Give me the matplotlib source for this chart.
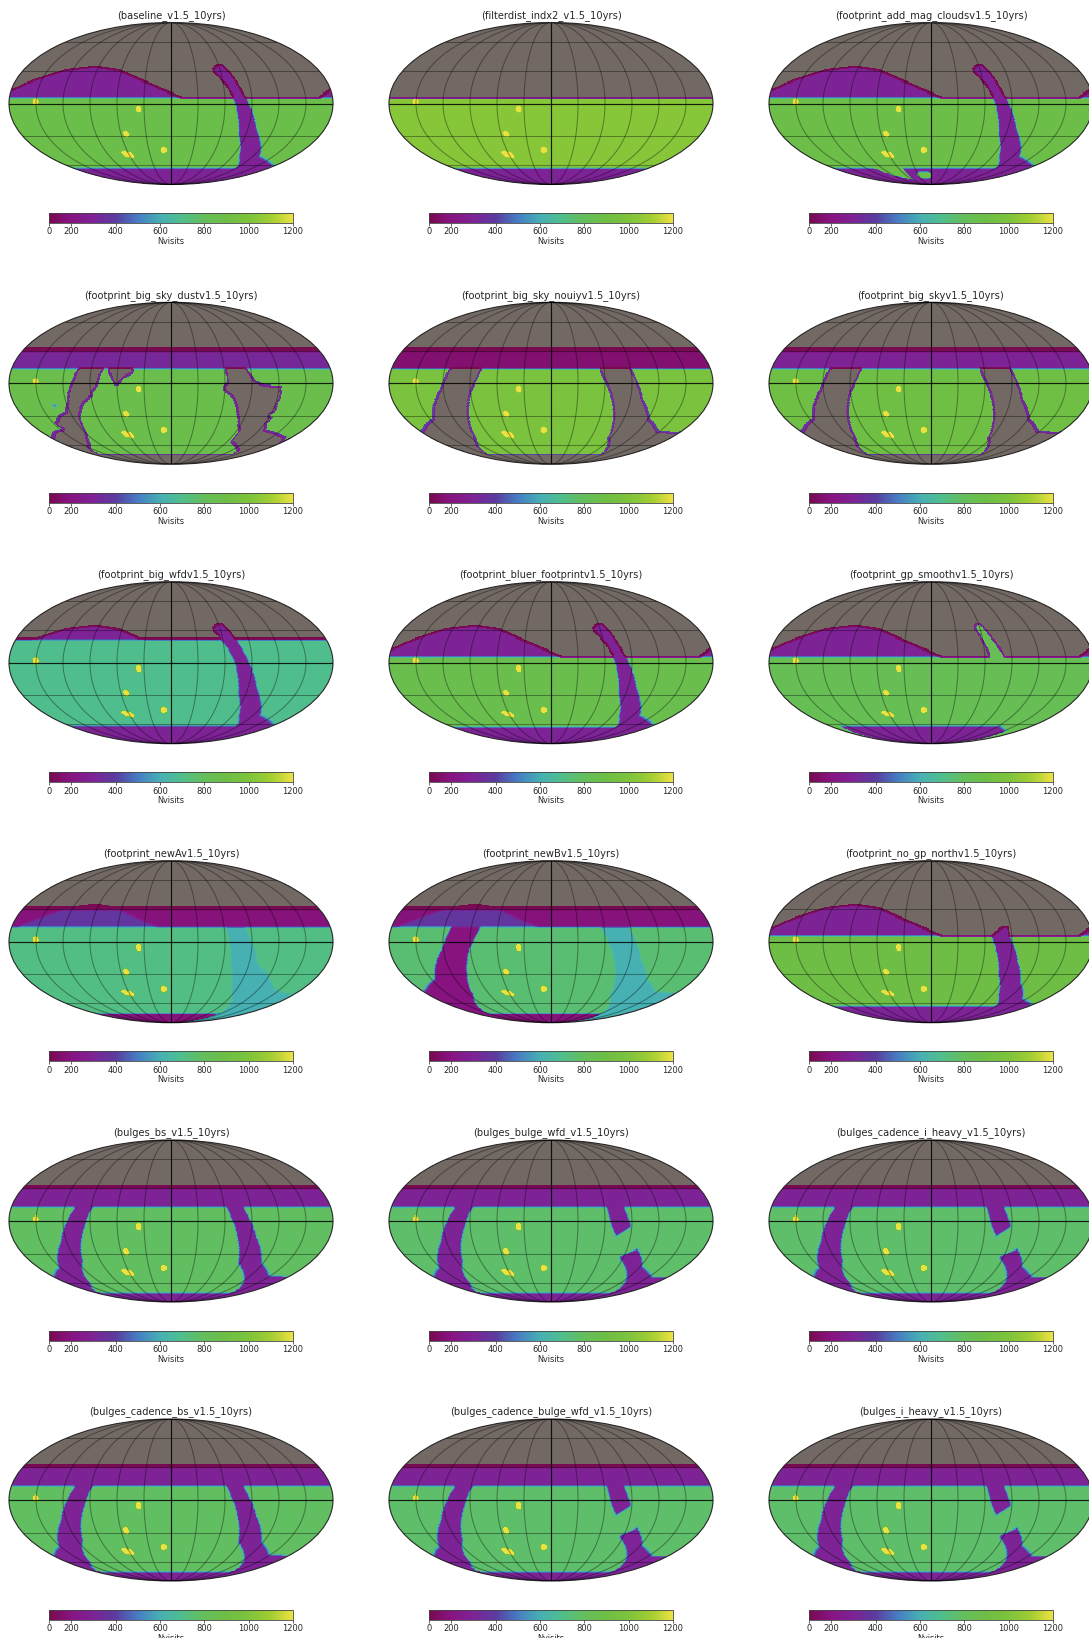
import numpy as np
import matplotlib
matplotlib.use("Agg")
import matplotlib.pyplot as plt
from matplotlib.colors import LinearSegmentedColormap
from matplotlib.path import Path

# ---- panels -------------------------------------------------------------
TITLES = ["baseline_v1.5_10yrs", "filterdist_indx2_v1.5_10yrs", "footprint_add_mag_cloudsv1.5_10yrs",
          "footprint_big_sky_dustv1.5_10yrs", "footprint_big_sky_nouiyv1.5_10yrs", "footprint_big_skyv1.5_10yrs",
          "footprint_big_wfdv1.5_10yrs", "footprint_bluer_footprintv1.5_10yrs", "footprint_gp_smoothv1.5_10yrs",
          "footprint_newAv1.5_10yrs", "footprint_newBv1.5_10yrs", "footprint_no_gp_northv1.5_10yrs",
          "bulges_bs_v1.5_10yrs", "bulges_bulge_wfd_v1.5_10yrs", "bulges_cadence_i_heavy_v1.5_10yrs",
          "bulges_cadence_bs_v1.5_10yrs", "bulges_cadence_bulge_wfd_v1.5_10yrs", "bulges_i_heavy_v1.5_10yrs"]
FOOTPRINTS = ["baseline", "filterdist", "magclouds",
              "dust", "bigsky", "bigsky",
              "bigwfd", "baseline", "gpsmooth",
              "newA", "newB", "nogpnorth",
              "bulge_bs", "bulge_wfd", "bulge_wfd",
              "bulge_bs", "bulge_wfd", "bulge_wfd"]
WFD_VISITS = [880, 1025, 885, 870, 985, 910, 700, 860, 825, 715, 750, 900, 785, 770, 770, 785, 770, 770]
BAND_VISITS = [300, 300, 300, 320, 165, 300, 300, 300, 300, 190, 190, 300, 300, 300, 300, 300, 300, 300]

CB_TICKS = [100, 200, 400, 600, 800, 1000, 1200]
CB_TICK_LABELS = ["0", "200", "400", "600", "800", "1000", "1200"]
CB_LABEL = "Nvisits"
CMAP_VALUES = [100, 200, 300, 400, 500, 600, 700, 800, 900, 1000, 1100, 1200]
CMAP_COLORS = ["#780a50", "#871482", "#7d2396", "#5a3ca0", "#467dc3", "#46afb4", "#50be8c", "#64be5a",
               "#6ebe46", "#7dc33c", "#a0cd32", "#ebe141"]
MASK_COLOR = "#736964"

# ---- sky regions (degrees) ------------------------------------------------
DDF_LON = [-150.4, -36, -53.6, -64.6, -58.4, -10]
DDF_LAT = [1.6, -5.1, -28, -47.8, -49.2, -44]

NES_LON = [-180, -160, -129, -94, -63, -29, 13, 164, 180]
NES_LAT = [13, 22, 32, 35.4, 32, 21, 6, 6, 14]

PLUME_LEFT_LAT = [37, 33, 29, 15, 0, -21, -30, -50, -60, -64]
PLUME_LEFT_LON = [58, 51, 51, 63, 71, 78.5, 82.5, 100, 116, 122]
PLUME_RIGHT_LAT = [37, 33, 29, 15, 0, -21, -30, -50, -60, -64]
PLUME_RIGHT_LON = [66, 69, 72, 79, 87, 99, 107, 131, 178, 180]

NOGP_LEFT_LAT = [14, 8, 5, -18, -30, -50, -60, -64]
NOGP_LEFT_LON = [80, 69, 67, 77, 82, 99, 115, 122]
NOGP_RIGHT_LAT = [14, 5, -18, -37, -54, -61, -64]
NOGP_RIGHT_LON = [88, 88, 100, 115, 143, 180, 180]

SMOOTH_LEFT_LAT = [37, 32, 5]
SMOOTH_LEFT_LON = [56, 52.6, 65]
SMOOTH_RIGHT_LAT = [37, 5]
SMOOTH_RIGHT_LON = [64, 84]
SMOOTH_SOUTH_W_LAT = [-62, -90]
SMOOTH_SOUTH_W_LON = [-160, -180]
SMOOTH_SOUTH_E_LAT = [-62, -68, -90]
SMOOTH_SOUTH_E_LON = [125, 156, 180]

LMC_POLY_LON = [-105, -90, -62, -55, -52, -52]
LMC_POLY_LAT = [-63, -72, -78.6, -78.6, -72.6, -63]
SMC_CENTER = (-15, -72.5)
SMC_RADII = (16, 5)

GAP_W_OUT_LAT = [13.4, -6, -34, -48, -90]
GAP_W_OUT_LON = [-112, -121, -144, -180, -180]
GAP_W_IN_LAT = [13.4, -9, -30.6, -50.6, -72.6, -90]
GAP_W_IN_LON = [-79.5, -92, -102, -113.6, -148, -180]
GAP_E_IN_LAT = [13.4, -9, -27, -50.6, -72.6, -90]
GAP_E_IN_LON = [56, 68.7, 77, 88, 122, 160]
GAP_E_OUT_LAT = [13.4, -15, -34, -47, -48, -90]
GAP_E_OUT_LON = [88, 102, 120, 148, 180, 180]

NEWA_LEFT_LAT = [13, -20, -42, -70, -90]
NEWA_LEFT_LON = [62.5, 69.5, 81, 115, 125]
NEWA_RIGHT_LAT = [13, -20, -44, -49, -50, -90]
NEWA_RIGHT_LON = [83, 100, 141, 166, 180, 180]

BULGE_W_OUT_LAT = [13, -20, -43, -51.4, -54, -90]
BULGE_W_OUT_LON = [-108, -127, -150, -173.5, -180, -180]
BULGE_W_IN_LAT = [13, -11, -36, -61, -71, -90]
BULGE_W_IN_LON = [-88, -99, -111.5, -139, -166, -180]
BULGE_E_IN_LAT = [13, -17, -39, -71, -90]
BULGE_E_IN_LON = [62.5, 76.6, 87.4, 144.7, 170]
BULGE_E_OUT_LAT = [13, -14, -39, -51.4, -53, -90]
BULGE_E_OUT_LON = [81.3, 96.7, 118, 147, 180, 180]

BULGE_UP_LON = [62.5, 67.8, 74, 89.3, 82]
BULGE_UP_LAT = [13, -5.3, -14.3, -4.7, 13]
BULGE_LOW_LON = [84.3, 102.8, 124, 157, 180, 180, 170, 146]
BULGE_LOW_LAT = [-33, -25.3, -43, -53.5, -54, -90, -90, -71.5]

DUST_W_LON = [-102, -105, -107, -113.7, -116, -123, -131, -146, -140, -147, -160, -173.6, -180, -180,
              -165, -150, -137, -128, -119.6, -112, -103, -91, -88, -83, -80, -78]
DUST_W_LAT = [13, 8, 3, -10.5, -18, -27.4, -30, -38.7, -42, -45.4, -47, -52.5, -54, -90,
              -70, -62, -58, -52, -45.4, -29, -18, -10.5, -5, 0, 10.5, 13]
DUST_NOTCH_LON = [-69, -66, -61, -55, -44.5, -44.7]
DUST_NOTCH_LAT = [13, 7.7, 0, 6, 10.5, 13]
DUST_E_LON = [63, 65, 60, 72, 82, 88, 95.7, 98, 137.6, 148, 180, 180, 179.7, 169.6, 150, 127.5, 119.6,
              126, 120, 122, 121, 102, 91, 83]
DUST_E_LAT = [13, 0, -4.4, -12, -27.4, -36, -43.7, -55, -66, -72.6, -90, -90, -58, -52.5, -49, -45.4, -37,
              -30, -21, -12, -4.4, -3, 1.5, 13]
DUST_HOLE_CENTER = (123, -29)
DUST_HOLE_RADII = (6, 4)
DUST_DOT_CENTER = (-134.6, -20.5)
DUST_DOT_RADII = (2.5, 2)
DUST_DOT_VISITS = 500

LIM_NORTH_BASE = 5
LIM_SOUTH_BASE = -63
LIM_NORTH_BIG = 13.4
LIM_STRIPE_BIG = 29
LIM_TOP_BIG = 33
LIM_SOUTH_BIG = -72.6
LIM_NORTH_WFD = 21.3
LIM_TOP_WFD = 23
VISITS_RIM_BAND = 115
VISITS_DDF = 1200
VISITS_GP_BLUE = 605
VISITS_NES_OVER = 375

MAIN_LINE = [-90, 90]

# ---- grid -------------------------------------------------------------------
lon_e = np.linspace(-180, 180, 361)
lat_e = np.linspace(-90, 90, 181)
LON, LAT = np.meshgrid(0.5 * (lon_e[1:] + lon_e[:-1]), 0.5 * (lat_e[1:] + lat_e[:-1]))


def curve(xs, ys):
    return np.interp(LON, xs, ys)


def band(lat_l, lon_l, lat_r, lon_r):
    """cells between a western and an eastern edge given as lon(lat)."""
    l = np.interp(LAT, lat_l[::-1], lon_l[::-1])
    r = np.interp(LAT, lat_r[::-1], lon_r[::-1])
    return (LON >= l) & (LON <= r) & (LAT <= max(lat_l)) & (LAT >= min(lat_l))


def poly(lons, lats):
    p = Path(np.column_stack([lons, lats]))
    pts = np.column_stack([LON.ravel(), LAT.ravel()])
    return p.contains_points(pts).reshape(LON.shape)


def blob_sky(center, radii):
    return ((LON - center[0]) / radii[0]) ** 2 + ((LAT - center[1]) / radii[1]) ** 2 <= 1


def add_ddfs(m):
    for lo, la in zip(DDF_LON, DDF_LAT):
        c = np.cos(np.deg2rad(la))
        m[((LON - lo) * c / 3.0) ** 2 + ((LAT - la) / 3.0) ** 2 <= 1] = VISITS_DDF


def base_layers(wfd, bnd, south=LIM_SOUTH_BASE):
    m = np.full(LON.shape, np.nan)
    m[LAT < curve(NES_LON, NES_LAT)] = bnd
    m[LAT < LIM_NORTH_BASE] = wfd
    m[LAT < south] = bnd
    return m


def big_layers(wfd, bnd, stripe=VISITS_RIM_BAND):
    m = np.full(LON.shape, np.nan)
    m[LAT < LIM_TOP_BIG] = stripe
    m[LAT < LIM_STRIPE_BIG] = bnd
    m[LAT < LIM_NORTH_BIG] = wfd
    return m


def build(kind, wfd, bnd):
    if kind == "baseline":
        m = base_layers(wfd, bnd)
        m[band(PLUME_LEFT_LAT, PLUME_LEFT_LON, PLUME_RIGHT_LAT, PLUME_RIGHT_LON)] = bnd
    elif kind == "filterdist":
        m = np.full(LON.shape, np.nan)
        m[LAT < LIM_NORTH_BASE + 1.5] = bnd
        m[LAT < LIM_NORTH_BASE] = wfd
        m[LAT < LIM_SOUTH_BASE] = bnd
    elif kind == "magclouds":
        m = base_layers(wfd, bnd)
        m[band(PLUME_LEFT_LAT, PLUME_LEFT_LON, PLUME_RIGHT_LAT, PLUME_RIGHT_LON)] = bnd
        m[poly(LMC_POLY_LON, LMC_POLY_LAT)] = wfd
        m[blob_sky(SMC_CENTER, SMC_RADII)] = wfd
    elif kind == "bigsky":
        m = big_layers(wfd, bnd)
        m[LAT < LIM_SOUTH_BIG] = np.nan
        m[band(GAP_W_OUT_LAT, GAP_W_OUT_LON, GAP_W_IN_LAT, GAP_W_IN_LON)] = np.nan
        m[band(GAP_E_IN_LAT, GAP_E_IN_LON, GAP_E_OUT_LAT, GAP_E_OUT_LON)] = np.nan
    elif kind == "dust":
        m = big_layers(wfd, bnd)
        m[LAT < LIM_SOUTH_BIG] = np.nan
        m[poly(DUST_W_LON, DUST_W_LAT)] = np.nan
        m[poly(DUST_NOTCH_LON, DUST_NOTCH_LAT)] = np.nan
        m[poly(DUST_E_LON, DUST_E_LAT)] = np.nan
        m[blob_sky(DUST_HOLE_CENTER, DUST_HOLE_RADII)] = wfd
        m[blob_sky(DUST_DOT_CENTER, DUST_DOT_RADII)] = DUST_DOT_VISITS
    elif kind == "bigwfd":
        m = np.full(LON.shape, np.nan)
        m[LAT < LIM_TOP_WFD] = VISITS_RIM_BAND
        m[LAT < curve(NES_LON, NES_LAT)] = bnd
        m[LAT < LIM_NORTH_WFD] = wfd
        m[LAT < LIM_SOUTH_BASE + 1] = bnd
        m[band(PLUME_LEFT_LAT, PLUME_LEFT_LON, PLUME_RIGHT_LAT, PLUME_RIGHT_LON)] = bnd
    elif kind == "gpsmooth":
        m = np.full(LON.shape, np.nan)
        m[LAT < curve(NES_LON, NES_LAT)] = bnd
        m[LAT < LIM_NORTH_BASE] = wfd
        m[band(SMOOTH_SOUTH_W_LAT, SMOOTH_SOUTH_W_LON, SMOOTH_SOUTH_E_LAT, SMOOTH_SOUTH_E_LON)] = bnd
        m[band(SMOOTH_LEFT_LAT, SMOOTH_LEFT_LON, SMOOTH_RIGHT_LAT, SMOOTH_RIGHT_LON)] = wfd
    elif kind == "nogpnorth":
        m = base_layers(wfd, bnd)
        m[band(NOGP_LEFT_LAT, NOGP_LEFT_LON, NOGP_RIGHT_LAT, NOGP_RIGHT_LON)] = bnd
    elif kind in ("newA", "newB"):
        m = big_layers(wfd, bnd)
        nes = curve(NES_LON, NES_LAT)
        m[LAT < nes] = VISITS_RIM_BAND
        m[LAT < LIM_STRIPE_BIG] = bnd
        m[(LAT < nes - 3) & (LAT < LIM_STRIPE_BIG)] = VISITS_NES_OVER
        m[LAT < LIM_NORTH_BIG] = wfd
        m[LAT < LIM_SOUTH_BIG] = bnd
        if kind == "newA":
            m[band(NEWA_LEFT_LAT, NEWA_LEFT_LON, NEWA_RIGHT_LAT, NEWA_RIGHT_LON)] = VISITS_GP_BLUE
        else:
            m[band(GAP_W_OUT_LAT, GAP_W_OUT_LON, GAP_W_IN_LAT, GAP_W_IN_LON)] = bnd + 5
            m[band(GAP_E_IN_LAT, GAP_E_IN_LON, GAP_E_OUT_LAT, GAP_E_OUT_LON)] = VISITS_GP_BLUE
    elif kind in ("bulge_bs", "bulge_wfd"):
        m = big_layers(wfd, bnd)
        m[LAT < LIM_SOUTH_BIG] = bnd
        m[band(BULGE_W_OUT_LAT, BULGE_W_OUT_LON, BULGE_W_IN_LAT, BULGE_W_IN_LON)] = bnd
        if kind == "bulge_bs":
            m[band(BULGE_E_IN_LAT, BULGE_E_IN_LON, BULGE_E_OUT_LAT, BULGE_E_OUT_LON)] = bnd
        else:
            m[poly(BULGE_UP_LON, BULGE_UP_LAT)] = bnd
            m[poly(BULGE_LOW_LON, BULGE_LOW_LAT)] = bnd
    add_ddfs(m)
    return soften(m)


def box3(a):
    out = np.zeros_like(a, dtype=float)
    for dy in (-1, 0, 1):
        for dx in (-1, 0, 1):
            s = np.roll(a, dx, axis=1)
            if dy:
                s = np.roll(s, dy, axis=0)
                if dy > 0:
                    s[0, :] = a[0, :]
                else:
                    s[-1, :] = a[-1, :]
            out += s
    return out / 9.0


def soften(m):
    """Footprint-edge pixels collect fewer visits: dark rim next to the masked sky, light mix elsewhere."""
    inside = np.isfinite(m)
    frac = box3(inside.astype(float))
    filled = np.where(inside, m, 0.0)
    mixed = box3(filled) / np.maximum(frac, 1e-6)
    mixed = np.where(m == VISITS_DDF, m, mixed)
    rim1 = frac < 0.999
    rim2 = box3((frac >= 0.999).astype(float)) < 0.999
    mixed = np.where(rim2 & ~rim1, mixed * 0.42, mixed)
    mixed = np.where(rim1, mixed * 0.3, mixed)
    return np.ma.masked_invalid(np.where(inside, mixed, np.nan))


# ---- figure -------------------------------------------------------------------
W, H = 1089, 1638
cmap = LinearSegmentedColormap.from_list(
    "nv", [((v - 100) / 1100, c) for v, c in zip(CMAP_VALUES, CMAP_COLORS)], N=256)
cmap.set_bad(MASK_COLOR)

fig = plt.figure(figsize=(W / 100, H / 100), dpi=100, facecolor="white")
COL_X = [171, 551, 931]
ROW_Y = [103.5, 383.3, 662.7, 941.7, 1221, 1500]
HALF_W, HALF_H = 162, 81
TXT = "#262626"

lon_r = np.deg2rad(lon_e)
lat_r = np.deg2rad(lat_e)

for i, (title, kind, wfd, bnd) in enumerate(zip(TITLES, FOOTPRINTS, WFD_VISITS, BAND_VISITS)):
    cx = COL_X[i % 3]
    cy = ROW_Y[i // 3]
    ax = fig.add_axes([(cx - HALF_W) / W, 1 - (cy + HALF_H) / H, 2 * HALF_W / W, 2 * HALF_H / H],
                      projection="mollweide")
    ax.set_facecolor(MASK_COLOR)
    mesh = ax.pcolormesh(lon_r, lat_r, build(kind, wfd, bnd), cmap=cmap, vmin=100, vmax=1200,
                         shading="flat", antialiased=False, rasterized=True, zorder=1)
    ax.set_longitude_grid(30)
    ax.set_latitude_grid(30)
    ax.set_longitude_grid_ends(90)
    ax.set_axisbelow(False)
    ax.grid(True, color="black", linewidth=0.75, alpha=0.36)
    ax.set_xticklabels([])
    ax.set_yticklabels([])
    ax.tick_params(length=0)
    ax.plot(np.deg2rad([0, 0]), np.deg2rad(MAIN_LINE), color="black", lw=0.85, alpha=0.8, zorder=4)
    ax.plot(np.deg2rad([-180, 180]), np.deg2rad([0, 0]), color="black", lw=0.85, alpha=0.75, zorder=4)
    for s in ax.spines.values():
        s.set_linewidth(0.8)
        s.set_edgecolor("#2a2a2a")
    ax.set_title("(" + title + ")", fontsize=7.15, pad=3.2, color=TXT)

    cax = fig.add_axes([(cx - 122) / W, 1 - (cy + 119.5) / H, 244 / W, 10 / H])
    cb = fig.colorbar(mesh, cax=cax, orientation="horizontal", ticks=CB_TICKS)
    cb.ax.set_xticklabels(CB_TICK_LABELS)
    cb.ax.tick_params(labelsize=6, length=2, width=0.5, pad=1.2, colors=TXT)
    cb.set_label(CB_LABEL, fontsize=5.9, labelpad=0.5, color=TXT)
    cb.outline.set_linewidth(0.6)
    cb.outline.set_edgecolor("#444444")

fig.savefig("out.png", dpi=100, facecolor="white")
